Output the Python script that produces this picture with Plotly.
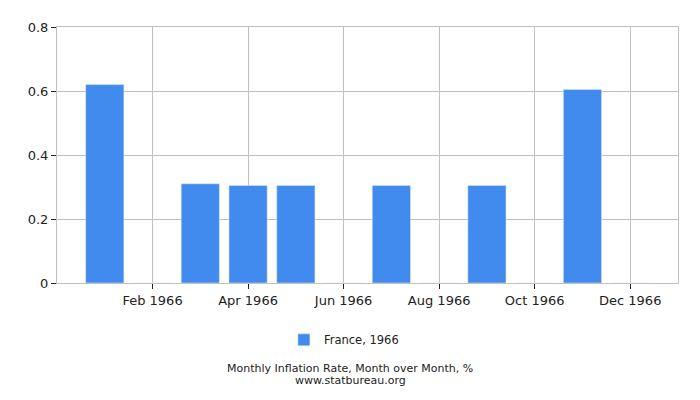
import plotly.graph_objects as go

months = ["Jan 1966", "Feb 1966", "Mar 1966", "Apr 1966", "May 1966", "Jun 1966",
          "Jul 1966", "Aug 1966", "Sep 1966", "Oct 1966", "Nov 1966", "Dec 1966"]
values = [0.62, 0, 0.31, 0.305, 0.305, 0, 0.305, 0, 0.305, 0, 0.605, 0]
tick_idx = [1, 3, 5, 7, 9, 11]

fig = go.Figure()
fig.add_trace(go.Bar(x=list(range(len(months))), y=values, name="France, 1966",
                     marker_color="#418bef", width=0.8))

# page has an 8px body margin, so margins are shifted by that much
fig.update_layout(
    width=700, height=400,
    margin=dict(l=49, r=30, t=14, b=125),
    plot_bgcolor="white", paper_bgcolor="white",
    font=dict(family="DejaVu Sans", size=13, color="#222"),
    showlegend=True,
    legend=dict(orientation="h", x=0.462, xanchor="center", y=-0.222, yanchor="middle",
                font=dict(size=11.5)),
    xaxis=dict(range=[-1, 12], tickvals=tick_idx, ticktext=[months[i] for i in tick_idx],
               showgrid=True, gridcolor="#c0c0c0", ticks="outside", ticklen=5,
               tickcolor="#222", showline=True, linecolor="#c0c0c0", mirror=True,
               zeroline=False),
    yaxis=dict(range=[0, 0.8], tickvals=[0, 0.2, 0.4, 0.6, 0.8],
               ticktext=["0", "0.2", "0.4", "0.6", "0.8"],
               showgrid=True, gridcolor="#c0c0c0", ticks="outside", ticklen=5,
               tickcolor="#222", showline=True, linecolor="#c0c0c0", mirror=True,
               zeroline=False),
)
fig.add_annotation(text="Monthly Inflation Rate, Month over Month, %",
                   x=0.472, y=-0.335, xref="paper", yref="paper", yanchor="middle",
                   showarrow=False, font=dict(size=11))
fig.add_annotation(text="www.statbureau.org",
                   x=0.472, y=-0.379, xref="paper", yref="paper", yanchor="middle",
                   showarrow=False, font=dict(size=11))

fig.write_html("out.html")
